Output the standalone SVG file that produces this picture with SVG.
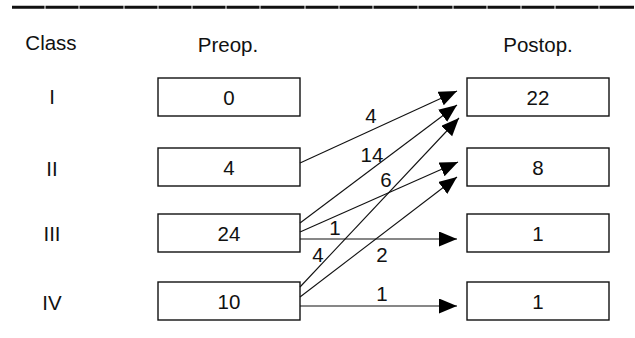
<svg xmlns="http://www.w3.org/2000/svg" width="635" height="338" viewBox="0 0 635 338">
<style>
text{font-family:"Liberation Sans",Arial,sans-serif;font-size:20.5px;fill:#111;text-anchor:middle}
.box{fill:#fff;stroke:#111;stroke-width:1.4}
.conn{stroke:#111;stroke-width:1.1;fill:none;marker-end:url(#ah)}
.rule{stroke:#111;stroke-width:3;fill:none}
</style>
<defs>
<marker id="ah" markerUnits="userSpaceOnUse" markerWidth="19" markerHeight="16" refX="18" refY="7.5" orient="auto">
<path d="M0 0 L18 7.5 L0 15 Z" fill="#000"/>
</marker>
</defs>
<path class="rule" d="M12 7.3H44.5M45.5 7.3H78.5M79.5 7.3H123.5M124.5 7.3H157.5M158.5 7.3H191.5M192.5 7.3H225.5M226.5 7.3H259.5M260.5 7.3H304.5M305.5 7.3H338.5M339.5 7.3H372.5M373.5 7.3H417.5M418.5 7.3H452.5M453.5 7.3H486.5M487.5 7.3H520.5M521.5 7.3H554.5M555.5 7.3H598.5M599.5 7.3H634"/>
<g id="headers">
<text x="51" y="50">Class</text>
<text x="228" y="52">Preop.</text>
<text x="538" y="52">Postop.</text>
</g>
<g id="classes">
<text x="52" y="104">I</text>
<text x="52" y="176">II</text>
<text x="52" y="241">III</text>
<text x="52" y="310">IV</text>
</g>
<g id="pre-I"><rect class="box" x="158" y="78" width="142" height="38"/><text x="229" y="104.5">0</text></g>
<g id="pre-II"><rect class="box" x="158" y="148" width="142" height="38"/><text x="229" y="174.5">4</text></g>
<g id="pre-III"><rect class="box" x="158" y="214" width="142" height="38"/><text x="229" y="240.5">24</text></g>
<g id="pre-IV"><rect class="box" x="158" y="282" width="142" height="38"/><text x="229" y="308.5">10</text></g>
<g id="post-I"><rect class="box" x="467" y="78" width="142" height="38"/><text x="538" y="104.5">22</text></g>
<g id="post-II"><rect class="box" x="467" y="148" width="142" height="38"/><text x="538" y="174.5">8</text></g>
<g id="post-III"><rect class="box" x="467" y="214" width="142" height="38"/><text x="538" y="240.5">1</text></g>
<g id="post-IV"><rect class="box" x="467" y="282" width="142" height="38"/><text x="538" y="308.5">1</text></g>
<g id="connectors">
<line class="conn" x1="300" y1="163" x2="457" y2="91"/>
<line class="conn" x1="300" y1="223" x2="457" y2="105"/>
<line class="conn" x1="300" y1="287" x2="459" y2="118"/>
<line class="conn" x1="300" y1="232" x2="458" y2="162"/>
<line class="conn" x1="300" y1="297" x2="457" y2="177"/>
<line class="conn" x1="300" y1="239" x2="457" y2="239"/>
<line class="conn" x1="300" y1="306" x2="457" y2="306"/>
<text x="371" y="123">4</text>
<text x="372" y="162">14</text>
<text x="386" y="187">6</text>
<text x="335" y="235">1</text>
<text x="318" y="262">4</text>
<text x="382" y="262">2</text>
<text x="382" y="301">1</text>
</g>
</svg>
